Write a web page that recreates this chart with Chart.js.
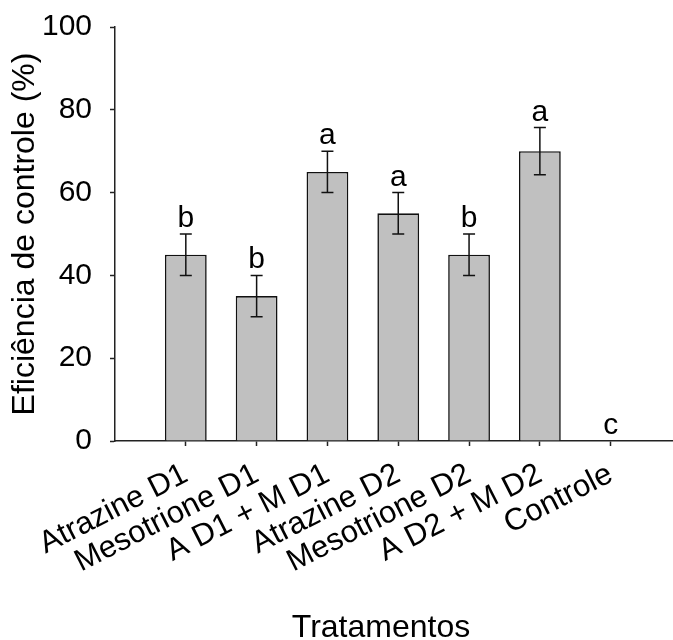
<!DOCTYPE html>
<html>
<head>
<meta charset="utf-8">
<script src="https://cdn.jsdelivr.net/npm/chart.js@4.4.1/dist/chart.umd.min.js"></script>
<style>
  html, body { margin: 0; padding: 0; background: #fff; }
  #grafico { display: block; }
</style>
</head>
<body>
<canvas id="grafico" width="673" height="640"></canvas>
<script>
// tratamentos e valores
const tratamentos = ['Atrazine D1', 'Mesotrione D1', 'A D1 + M D1', 'Atrazine D2', 'Mesotrione D2', 'A D2 + M D2', 'Controle'];
const eficiencia = [45, 35, 65, 55, 45, 70, 0];
const erro = [5, 5, 5, 5, 5, 5.7, 0];
const letras = ['b', 'b', 'a', 'a', 'b', 'a', 'c'];
const ticksY = [0, 20, 40, 60, 80, 100];

const fonte = 'Liberation Sans, Arial, sans-serif';

let pontos = [];
for (i = 0; i < tratamentos.length; i++) {
    pontos.push({ x: i + 1, y: eficiencia[i] });
}

// barras de erro, letras e titulo do eixo x
const extras = {
    id: 'extras',
    afterDatasetsDraw(chart) {
        const ctx = chart.ctx;
        const sx = chart.scales.x;
        const sy = chart.scales.y;
        ctx.save();
        ctx.strokeStyle = '#111';
        ctx.lineWidth = 1.5;
        for (i = 0; i < eficiencia.length; i++) {
            const px = sx.getPixelForValue(i + 1);
            if (erro[i] > 0) {
                const yTop = sy.getPixelForValue(eficiencia[i] + erro[i]);
                const yBot = sy.getPixelForValue(eficiencia[i] - erro[i]);
                ctx.beginPath();
                ctx.moveTo(px, yTop); ctx.lineTo(px, yBot);
                ctx.moveTo(px - 6, yTop); ctx.lineTo(px + 6, yTop);
                ctx.moveTo(px - 6, yBot); ctx.lineTo(px + 6, yBot);
                ctx.stroke();
            }
            const yLetra = sy.getPixelForValue(eficiencia[i] + erro[i]) - 7;
            ctx.fillStyle = '#000';
            ctx.font = '30px ' + fonte;
            ctx.textAlign = 'center';
            ctx.textBaseline = 'alphabetic';
            ctx.fillText(letras[i], px, yLetra);
        }
        ctx.font = '32px ' + fonte;
        ctx.textAlign = 'center';
        ctx.textBaseline = 'alphabetic';
        ctx.fillText('Tratamentos', 381, 637);
        ctx.restore();
    }
};

const config = {
    type: 'bar',
    data: {
        datasets: [{
            data: pontos,
            backgroundColor: '#c0c0c0',
            borderColor: '#111',
            borderWidth: 1.6,
            barPercentage: 0.59,
            categoryPercentage: 1
        }]
    },
    options: {
        responsive: false,
        animation: false,
        devicePixelRatio: 1,
        layout: { padding: { top: 27, left: 0, right: 0, bottom: 0 } },
        plugins: { legend: { display: false }, tooltip: { enabled: false } },
        scales: {
            x: {
                type: 'linear',
                min: 0,
                max: 7.88,
                offset: false,
                afterBuildTicks: (scale) => { scale.ticks = tratamentos.map((t, k) => ({ value: k + 1 })); },
                afterFit: (scale) => { scale.height = 199; },
                ticks: {
                    autoSkip: false,
                    minRotation: 27,
                    maxRotation: 27,
                    padding: 10,
                    color: '#000',
                    font: { family: fonte, size: 31 },
                    callback: (v) => tratamentos[v - 1]
                },
                grid: { offset: false, drawOnChartArea: false, tickLength: 5, color: '#222', tickWidth: 1.5 },
                border: { color: '#222', width: 1.5 }
            },
            y: {
                min: 0,
                max: 100,
                afterBuildTicks: (scale) => { scale.ticks = ticksY.map(v => ({ value: v })); },
                afterFit: (scale) => {
                    scale.width = 115;
                    scale.paddingTop = 0;
                    scale.paddingBottom = 0;
                },
                ticks: {
                    padding: 18,
                    color: '#000',
                    font: { family: fonte, size: 30 }
                },
                grid: { drawOnChartArea: false, tickLength: 5, color: '#222', tickWidth: 1.5 },
                border: { color: '#222', width: 1.5 },
                title: {
                    display: true,
                    text: 'Eficiência de controle (%)',
                    color: '#000',
                    font: { family: fonte, size: 32 },
                    padding: { top: 6, bottom: 0 }
                }
            }
        }
    },
    plugins: [extras]
};

var ctx = document.getElementById('grafico').getContext('2d');
let myChart = new Chart(ctx, config);
</script>
</body>
</html>
